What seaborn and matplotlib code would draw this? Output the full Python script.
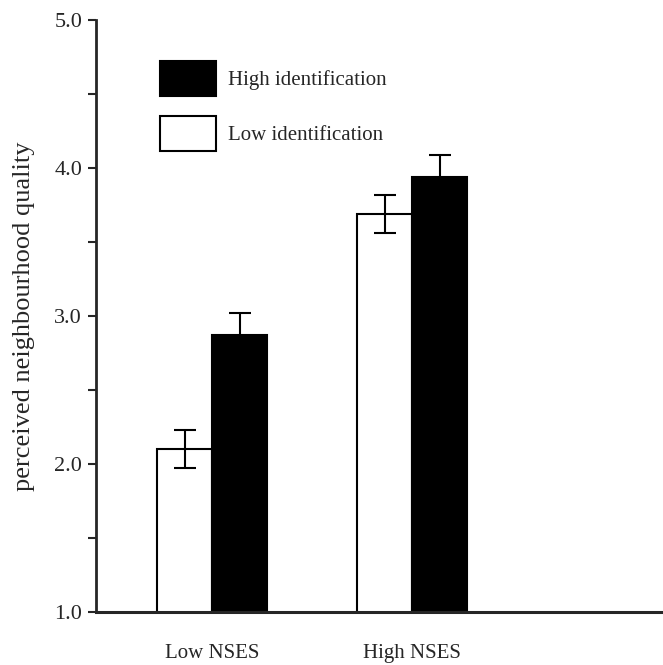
import matplotlib
matplotlib.use("Agg")
import matplotlib.pyplot as plt
import seaborn as sns
import pandas as pd
import numpy as np
from matplotlib.ticker import MultipleLocator, FormatStrFormatter

# Data
nses = ["Low NSES", "Low NSES", "High NSES", "High NSES"]
identification = ["Low identification", "High identification", "Low identification", "High identification"]
means = [2.10, 2.87, 3.69, 3.94]
errors = [0.13, 0.15, 0.13, 0.15]

df = pd.DataFrame({"nses": nses, "ident": identification, "mean": means, "err": errors})

sns.set_style("ticks")
plt.rcParams["font.family"] = ["Liberation Serif", "DejaVu Serif"]

fig = plt.figure(figsize=(6.63, 6.65), dpi=100)
ax = fig.add_axes([96/663, 1 - 612/665, 1 - 96/663, (612 - 20)/665])

hue_order = ["Low identification", "High identification"]
sns.barplot(data=df, x="nses", y="mean", hue="ident", hue_order=hue_order,
            order=["Low NSES", "High NSES"], palette=["white", "black"],
            edgecolor="black", linewidth=1.5, width=0.55, errorbar=None, ax=ax)

# error bars at the bar centres
for cont, h in zip(ax.containers, hue_order):
    sub = df[df["ident"] == h].set_index("nses").loc[["Low NSES", "High NSES"]]
    xs = [p.get_x() + p.get_width() / 2 for p in cont.patches]
    ax.errorbar(xs, sub["mean"].values, yerr=sub["err"].values, fmt="none",
                ecolor="black", elinewidth=1.5, capsize=8, capthick=1.5, zorder=5)

ax.set_ylim(1.0, 5.0)
ax.set_xlim(-0.58, 2.255)
ax.yaxis.set_major_locator(MultipleLocator(1.0))
ax.yaxis.set_minor_locator(MultipleLocator(0.5))
ax.yaxis.set_major_formatter(FormatStrFormatter("%.1f"))
ax.tick_params(axis="y", which="both", length=6, width=1.5, labelsize=16, direction="out", pad=4)
ax.tick_params(axis="x", length=0, labelsize=15, pad=23)

ax.set_xlabel("")
ax.set_ylabel("perceived neighbourhood quality", fontsize=19, labelpad=14)
sns.despine(ax=ax, top=True, right=True)
ax.spines["left"].set_linewidth(2)
ax.spines["bottom"].set_linewidth(2.2)

handles, labels = ax.get_legend_handles_labels()
ax.legend(handles[::-1], labels[::-1], loc="upper left",
          bbox_to_anchor=(160/663, 1 - 61/665), bbox_transform=fig.transFigure,
          frameon=False, fontsize=15, handlelength=2.7, handleheight=2.2,
          labelspacing=0.95, handletextpad=0.55, borderpad=0, borderaxespad=0)

fig.savefig("out.png", dpi=100)
